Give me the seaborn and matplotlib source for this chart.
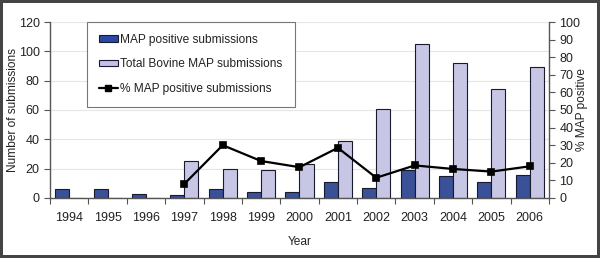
import numpy as np
import pandas as pd
import seaborn as sns
import matplotlib.pyplot as plt
from matplotlib.lines import Line2D
from matplotlib.patches import Patch

# values
years = ['1994', '1995', '1996', '1997', '1998', '1999', '2000',
         '2001', '2002', '2003', '2004', '2005', '2006']
map_positive = [6, 6, 3, 2, 6, 4, 4, 11, 7, 19, 15, 11, 16]
total_bovine = [0, 0, 0, 25, 20, 19, 23, 39, 61, 105, 92, 74, 89]
pct_positive = [np.nan, np.nan, np.nan, 8, 30, 21, 17.5, 28.5, 11.5, 18.5, 16.5, 15, 18]

POS_LABEL = 'MAP positive submissions'
TOT_LABEL = 'Total Bovine MAP submissions'
PCT_LABEL = '% MAP positive submissions'

bars = pd.DataFrame({
    'Year': years * 2,
    'count': map_positive + total_bovine,
    'series': [POS_LABEL] * len(years) + [TOT_LABEL] * len(years),
})
pct = pd.DataFrame({'Year': years, 'pct': pct_positive})

sns.set_theme(style='white', rc={
    'axes.edgecolor': '#555555',
    'axes.linewidth': 1,
    'text.color': '#222222',
    'axes.labelcolor': '#222222',
    'xtick.color': '#222222',
    'ytick.color': '#222222',
})
plt.rcParams['font.family'] = ['Liberation Sans', 'DejaVu Sans']

fig = plt.figure(figsize=(6, 2.58), dpi=100, facecolor='white',
                 edgecolor='#444444', linewidth=3)
ax = fig.add_axes([0.0833, 0.2326, 0.8317, 0.6821])

pos_color = '#2b48a6'
tot_color = '#c2c2ea'
sns.barplot(data=bars, x='Year', y='count', hue='series', order=years,
            hue_order=[POS_LABEL, TOT_LABEL], palette=[pos_color, tot_color],
            width=0.73, edgecolor='#1a1a2e', linewidth=0.8, legend=False, ax=ax)

ax.set_ylim(0, 120)
ax.set_yticks(range(0, 121, 20))
ax.set_xlim(-0.5, len(years) - 0.5)
ax.yaxis.grid(True, color='#e6e6e6', linewidth=0.8)
ax.set_axisbelow(True)
ax.tick_params(axis='both', labelsize=9, length=4, width=0.8, direction='out')
ax.tick_params(axis='x', length=0, pad=10)
ax.set_xticks(np.arange(-0.5, len(years), 1), minor=True)
ax.tick_params(axis='x', which='minor', length=4, width=0.8, direction='out',
               bottom=True, color='#555555')
ax.tick_params(axis='y', left=True, color='#555555')
ax.set_xlabel('Year', fontsize=8.6)
ax.set_ylabel('Number of submissions', fontsize=8.6)
ax.xaxis.set_label_coords(0.5, -0.215)
ax.yaxis.set_label_coords(-0.062, 0.5)
sns.despine(ax=ax, top=True, right=True)

ax2 = ax.twinx()
sns.pointplot(data=pct, x='Year', y='pct', order=years, color='black',
              markers='s', markersize=5, linewidth=1.6, errorbar=None, ax=ax2)
ax2.set_ylim(0, 100)
ax2.set_yticks(range(0, 101, 10))
ax2.set_xlim(-0.5, len(years) - 0.5)
ax2.tick_params(axis='y', labelsize=9, length=4, width=0.8, direction='out',
                right=True, color='#555555')
ax2.set_ylabel('% MAP positive', fontsize=8.6, rotation=90)
ax2.yaxis.set_label_coords(1.054, 0.5)
for side in ['top', 'left', 'bottom']:
    ax2.spines[side].set_visible(False)
ax2.spines['right'].set_color('#555555')

handles = [
    Patch(facecolor=pos_color, edgecolor='#1a1a2e', linewidth=0.8),
    Patch(facecolor=tot_color, edgecolor='#1a1a2e', linewidth=0.8),
    Line2D([], [], color='black', marker='s', markersize=5, linewidth=1.6),
]
leg = ax2.legend(handles, [POS_LABEL, TOT_LABEL, PCT_LABEL],
                 loc='upper left', bbox_to_anchor=(0.074, 1.0),
                 fontsize=8.6, frameon=True, fancybox=False,
                 edgecolor='#777777', framealpha=1, borderpad=1.0,
                 labelspacing=1.05, handlelength=1.6, handleheight=0.45,
                 handletextpad=0.2, borderaxespad=0)
leg.get_frame().set_linewidth(0.8)

fig.savefig('out.png', dpi=100)
